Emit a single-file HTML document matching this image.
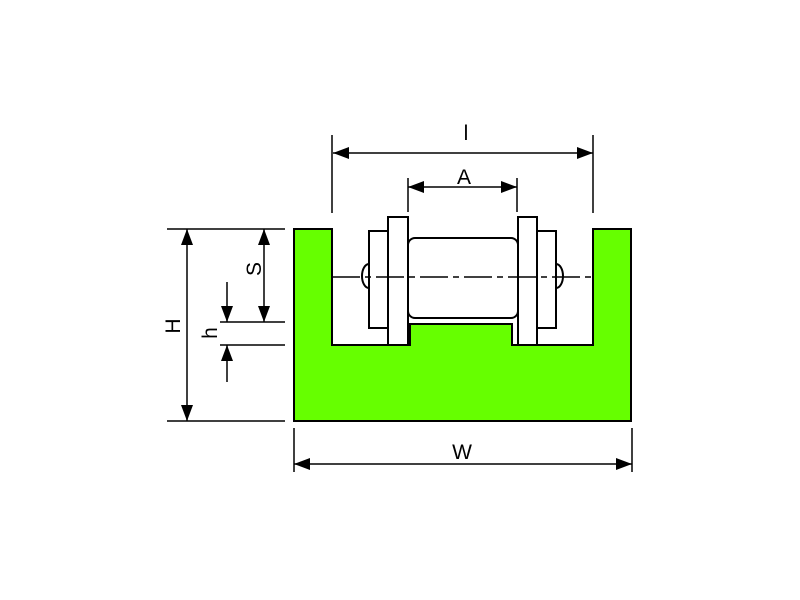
<!DOCTYPE html>
<html><head><style>body{margin:0;background:#fff}svg{display:block}</style></head><body>
<svg width="800" height="600" viewBox="0 0 800 600" xmlns="http://www.w3.org/2000/svg">
<defs>
<marker id="a" viewBox="0 0 16 12" refX="16" refY="6" markerWidth="16" markerHeight="12" markerUnits="userSpaceOnUse" orient="auto-start-reverse"><path d="M0,0L16,6L0,12z" fill="#000"/></marker>
</defs>
<g stroke="#000" stroke-width="2" fill="none">
<path d="M294,229H332V345H410V324H512V345H593V229H631V421H294Z" fill="#66ff00"/>
<path d="M369,264 a7,12 0 0 0 0,24" fill="#fff"/>
<path d="M556,264 a7,12 0 0 1 0,24" fill="#fff"/>
<rect x="369" y="231" width="19" height="97" fill="#fff"/>
<rect x="388" y="217" width="20" height="128" fill="#fff"/>
<rect x="408" y="238" width="110" height="80" rx="7" fill="#fff"/>
<rect x="518" y="217" width="19" height="128" fill="#fff"/>
<rect x="537" y="231" width="19" height="97" fill="#fff"/>
<line x1="332" y1="277" x2="593" y2="277" stroke-width="1.5" stroke-dasharray="28,5,6,5"/>
</g>
<g stroke="#000" stroke-width="1.5" fill="none">
<line x1="167" y1="229" x2="285" y2="229"/>
<line x1="167" y1="421" x2="285" y2="421"/>
<line x1="220" y1="322" x2="285" y2="322"/>
<line x1="220" y1="345" x2="285" y2="345"/>
<line x1="332" y1="135" x2="332" y2="213"/>
<line x1="593" y1="135" x2="593" y2="213"/>
<line x1="408" y1="178" x2="408" y2="212"/>
<line x1="517" y1="178" x2="517" y2="212"/>
<line x1="294" y1="428" x2="294" y2="472"/>
<line x1="632" y1="428" x2="632" y2="472"/>
<line x1="187" y1="229" x2="187" y2="421" marker-start="url(#a)" marker-end="url(#a)"/>
<line x1="264" y1="229" x2="264" y2="322" marker-start="url(#a)" marker-end="url(#a)"/>
<line x1="227" y1="282" x2="227" y2="322" marker-end="url(#a)"/>
<line x1="227" y1="382" x2="227" y2="345" marker-end="url(#a)"/>
<line x1="333" y1="153" x2="593" y2="153" marker-start="url(#a)" marker-end="url(#a)"/>
<line x1="408" y1="187" x2="517" y2="187" marker-start="url(#a)" marker-end="url(#a)"/>
<line x1="294" y1="464" x2="632" y2="464" marker-start="url(#a)" marker-end="url(#a)"/>
</g>
<g font-family="Liberation Sans, sans-serif" font-size="21" fill="#000" text-anchor="middle">
<text x="466" y="140">l</text>
<text x="464" y="184">A</text>
<text x="462" y="459">W</text>
<text transform="translate(180,326) rotate(-90)">H</text>
<text transform="translate(261,269) rotate(-90)">S</text>
<text transform="translate(217,333) rotate(-90)">h</text>
</g>
</svg>
</body></html>
